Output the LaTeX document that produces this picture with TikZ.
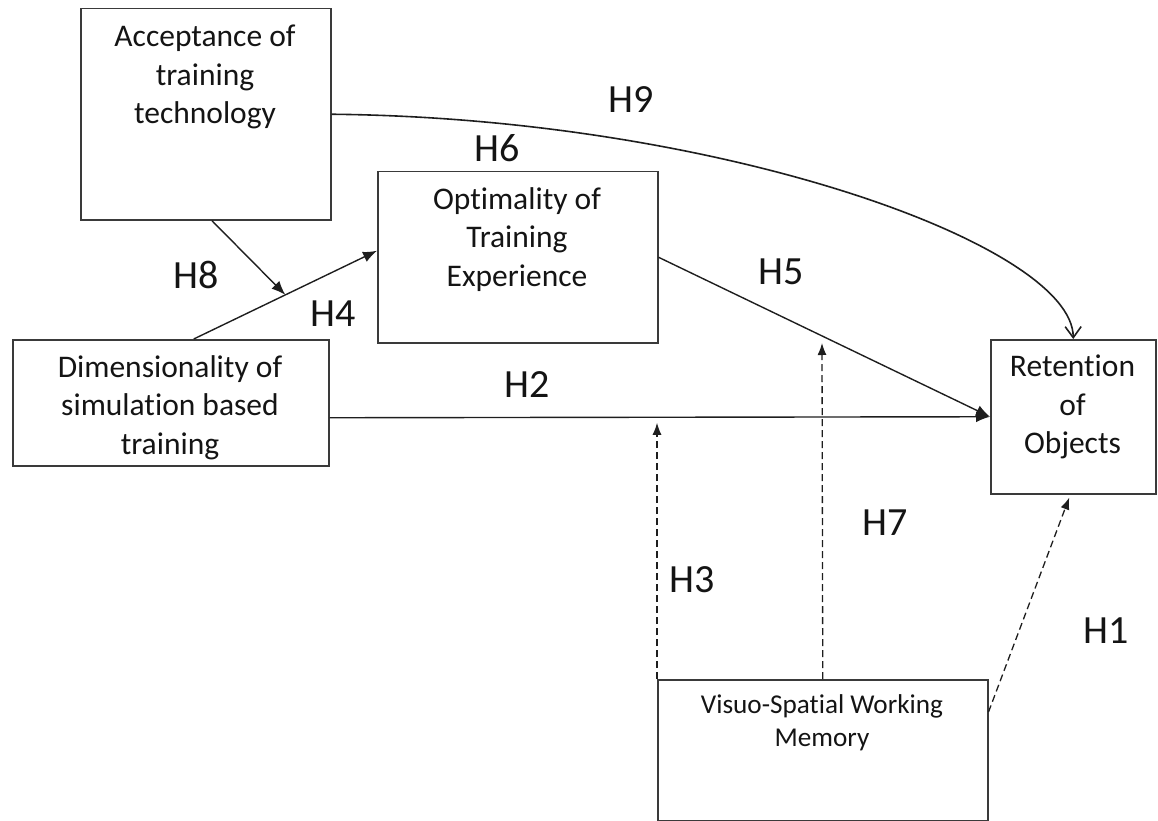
\documentclass[tikz,border=0pt]{standalone}
\usepackage{fontspec}
\setmainfont{Carlito}[Ligatures={NoCommon,NoContextual}, Contextuals=NoAlternate]
\usetikzlibrary{arrows.meta}
\definecolor{boxline}{HTML}{3A3A3A}
\definecolor{ink}{HTML}{141414}
\definecolor{wire}{HTML}{1E1E1E}
\begin{document}
\begin{tikzpicture}[x=1pt,y=-1pt,
  box/.style={draw=boxline, line width=1.5pt, inner sep=0pt, anchor=north west},
  boxtext/.style={align=center, inner sep=0pt, anchor=north, text=ink,
    font=\fontsize{31.5}{38.5}\selectfont},
  smalltext/.style={boxtext, font=\fontsize{27.2}{33}\selectfont},
  hyp/.style={inner sep=0pt, text=ink, font=\fontsize{40}{44}\selectfont},
  link/.style={draw=wire, line width=1.4pt, -{Latex[length=14pt,width=11pt]}},
  moderator/.style={draw=wire, line width=1.3pt, dash pattern=on 7pt off 4pt,
    -{Latex[length=12pt,width=9pt]}},
  curved/.style={draw=wire, line width=1.6pt, -{Straight Barb[length=11pt,width=16pt]}},
]
\useasboundingbox (0,0) rectangle (1158,821);

% constructs
\node[box, minimum width=250pt, minimum height=211pt] (acc) at (80,8) {};
\node[box, minimum width=280pt, minimum height=171pt] (opt) at (377,171) {};
\node[box, minimum width=316pt, minimum height=126pt] (dim) at (12,339) {};
\node[box, minimum width=165pt, minimum height=154pt] (ret) at (990,339) {};
\node[box, minimum width=330pt, minimum height=141pt] (vis) at (657,679) {};

\node[boxtext] (acctext) at (205,25) {Acceptance of\\training\\technology};
\node[boxtext] (opttext) at (517,187) {Optimality of\\Training\\Experience};
\node[boxtext] (dimtext) at (170,355) {Dimensionality of\\simulation based\\training};
\node[boxtext] (rettext) at (1072.5,355) {Retention\\of\\Objects};
\node[smalltext] (vistext) at (822,694) {Visuo-Spatial Working\\Memory};

% hypothesis labels
\node[hyp] (h9) at (631,100) {H9};
\node[hyp] (h6) at (497,148) {H6};
\node[hyp] (h8) at (196,275) {H8};
\node[hyp] (h4) at (333,314) {H4};
\node[hyp] (h5) at (781,272) {H5};
\node[hyp] (h2) at (527,385) {H2};
\node[hyp] (h7) at (885,523) {H7};
\node[hyp] (h3) at (692,580) {H3};
\node[hyp] (h1) at (1106,631) {H1};

% direct paths
\draw[link] ([xshift=23pt]dim.north) -- coordinate[pos=0.5] (h4mid) ([yshift=6.5pt]opt.west);
\draw[link] ([xshift=6pt]acc.south) -- (h4mid);
\draw[link] (opt.east) -- (ret.west);
\draw[link] ([yshift=-15pt]dim.east) -- (ret.west);
\draw[curved] (acc.east) .. controls (720,118) and (1072.5,245) .. (ret.north);

% moderation by working memory
\coordinate (h3tip) at ([yshift=-6pt]vis.north west |- ret.west);
\coordinate (h7tip) at (822,343);
\draw[moderator] (vis.north west) -- (h3tip);
\draw[moderator] (vis.north) -- (h7tip);
\draw[moderator] ([yshift=-33pt]vis.north east) -- ([xshift=-4pt,yshift=-3pt]ret.south);
\end{tikzpicture}
\end{document}
